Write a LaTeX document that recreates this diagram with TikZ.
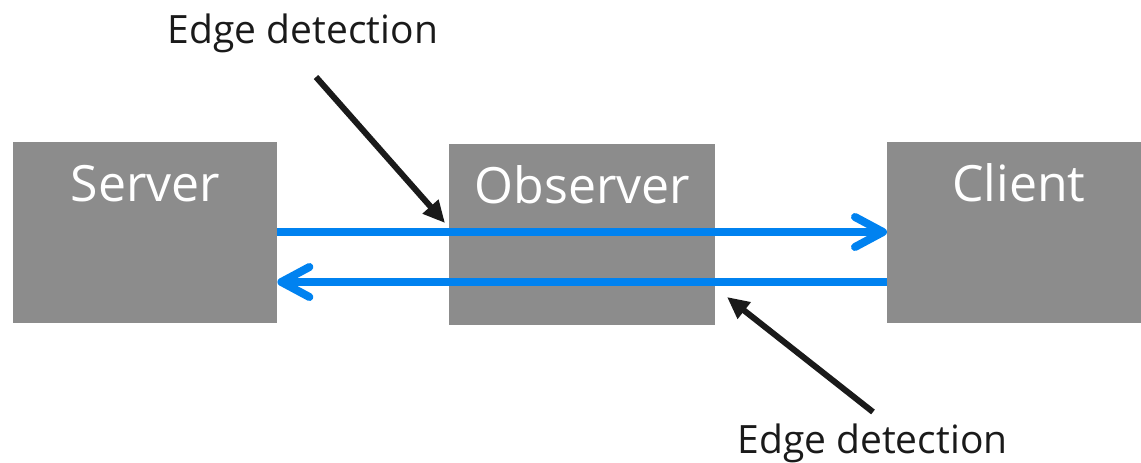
\documentclass[tikz,border=0pt]{standalone}
\usepackage{fontspec}
\setmainfont{Open Sans}
\usetikzlibrary{arrows.meta}
\definecolor{boxgrey}{HTML}{8C8C8C}
\definecolor{flowblue}{HTML}{0082F0}
\definecolor{inkblack}{HTML}{1A1A1A}
\tikzset{
  block/.style={fill=boxgrey, draw=none, inner sep=0pt, anchor=north west},
  blocklabel/.style={text=white, font=\fontsize{50}{60}\selectfont, anchor=base, inner sep=0pt},
  note/.style={text=inkblack, font=\fontsize{39}{46}\selectfont, anchor=base, inner sep=0pt},
  flow/.style={draw=flowblue, line width=8pt,
    -{Straight Barb[length=28pt,width=30pt,round]}},
  pointer/.style={draw=inkblack, line width=6pt,
    -{Triangle[length=22pt,width=20pt]}},
}
\begin{document}
\begin{tikzpicture}[x=1pt,y=-1pt]
\useasboundingbox (0,0) rectangle (1141,463);

% the three parties
\node[block, minimum width=264pt, minimum height=181pt] (server) at (13,142) {};
\node[block, minimum width=266pt, minimum height=181pt] (observer) at (449,144) {};
\node[block, minimum width=254pt, minimum height=181pt] (client) at (887,142) {};

\node[blocklabel] (serverlbl) at (145.5,201) {Server};
\node[blocklabel] (observerlbl) at (582.5,203) {Observer};
\node[blocklabel] (clientlbl) at (1019,201) {Client};

% request and response flows, drawn over the observer
\draw[flow] (server.east |- 0,232) -- (client.west |- 0,232);
\draw[flow] (client.west |- 0,282) -- (server.east |- 0,282);

% annotations
\node[note] (edgetop) at (303,43) {Edge detection};
\node[note] (edgebottom) at (872.5,453) {Edge detection};

\coordinate (p1from) at (316,77);
\coordinate (p1to) at (445,223);
\coordinate (p2from) at (873,412);
\coordinate (p2to) at (727,297);
\draw[pointer] (p1from) -- (p1to);
\draw[pointer] (p2from) -- (p2to);
\end{tikzpicture}
\end{document}
